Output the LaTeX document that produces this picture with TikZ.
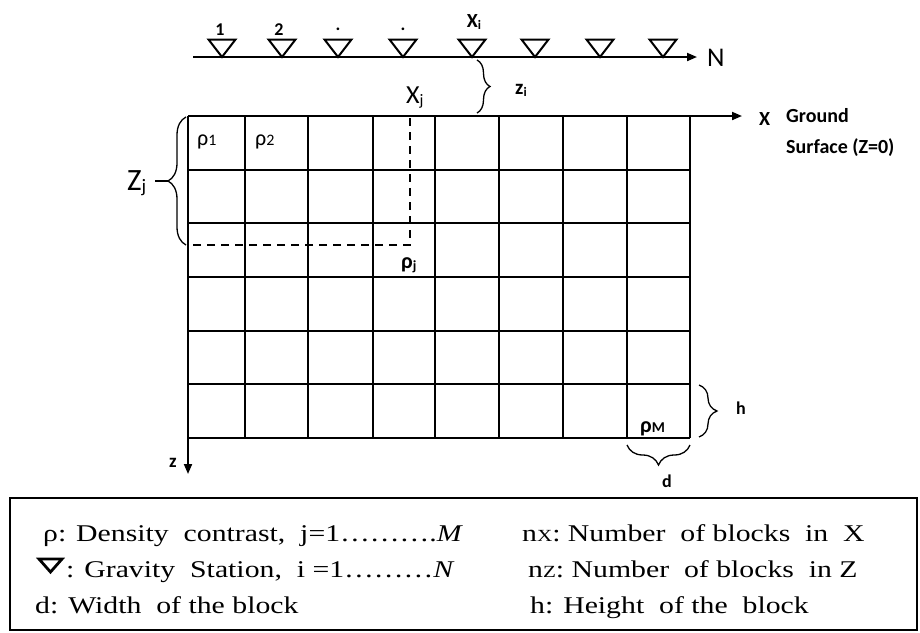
\documentclass[tikz,border=0pt]{standalone}
\usepackage{fontspec}
\setmainfont{Liberation Serif}
\newfontfamily\calfont{Carlito}
\newfontfamily\legfont[FakeStretch=1.24]{Liberation Serif}
\usetikzlibrary{decorations.pathreplacing,arrows.meta}
\newcommand\fs[1]{\fontsize{#1}{#1}\selectfont}
\newcommand\sbs[3]{#1{\fs{#3}\raisebox{-2.5pt}{#2}}}
\tikzset{
  gridline/.style={line width=1.9pt},
  axisarrow/.style={line width=1.9pt,-{Triangle[length=10pt,width=8pt]}},
  station/.style={line width=2pt, line join=miter},
  lab/.style={inner sep=0pt, anchor=base, font=\calfont\bfseries\fs{18}},
  labreg/.style={inner sep=0pt, anchor=base, font=\calfont\fs{18}},
  bracestyle/.style={decorate, decoration={brace,amplitude=#1}, line width=1.3pt},
  dashline/.style={line width=1.8pt, dash pattern=on 8pt off 6pt},
  legend/.style={inner sep=0pt, anchor=base west, font=\legfont\fs{24}},
}
\begin{document}
\begin{tikzpicture}[x=1pt,y=-1pt]
\useasboundingbox (0,0) rectangle (920,632);

% ---- station line
\coordinate (n0) at (193,57);
\coordinate (n1) at (697,57);
\draw[axisarrow] (n0) -- (n1);
\node[labreg, font=\calfont\fs{27}, anchor=base west] (N) at (707,66) {N};
\foreach \x in {222,282,338,403,472,535,600,663}{
  \draw[station] (\x-13.5,39.5) -- (\x+13.5,39.5) -- (\x,57) -- cycle;
}
\node[lab] (l1) at (220,35) {1};
\node[lab] (l2) at (279,35) {2};
\node[lab] (l3) at (338,30) {.};
\node[lab] (l4) at (403,30) {.};
\node[lab, font=\calfont\bfseries\fs{20}] (xi) at (474,27) {\sbs{X}{i}{13}};

% ---- grid
\foreach \x in {188,245,308,373,435,499,563,627,690}
  \draw[gridline] (\x,116) -- (\x,438);
\foreach \y in {169.7,223.3,277,330.7,384.3,438}
  \draw[gridline] (188,\y) -- (690,\y);
\coordinate (g0) at (188,116);
\coordinate (g1) at (742,116);
\draw[axisarrow] (g0) -- (g1);
\coordinate (z0) at (188,436);
\coordinate (z1) at (188,474);
\draw[axisarrow] (z0) -- (z1);

% ---- axis labels
\node[lab, font=\calfont\bfseries\fs{20}, anchor=base west] (X) at (759,125) {X};
\node[lab, font=\calfont\bfseries\fs{20}, anchor=base west] (gr) at (786,122) {Ground};
\node[lab, font=\calfont\bfseries\fs{20}, anchor=base west] (sf) at (786,153) {Surface (Z=0)};
\node[lab, font=\calfont\bfseries\fs{19}] (zl) at (173,467) {z};

% ---- zi brace
\draw[bracestyle=13pt] (477,60) -- (477,113);
\node[lab, font=\calfont\bfseries\fs{21}, anchor=base west] (zi) at (515,94) {\sbs{z}{i}{13}};

% ---- Xj and dashed lines
\node[labreg, font=\calfont\fs{26}, anchor=base west] (xj) at (406,103) {\sbs{X}{j}{16}};
\coordinate (pj) at (410,245);
\draw[dashline] (410,118) -- (pj) -- (190,245);

% ---- Zj brace
\draw[bracestyle=18pt] (186,245) -- (186,117);
\node[labreg, font=\calfont\fs{31}, anchor=base west] (Zj) at (127,190) {\sbs{Z}{j}{19}};
\draw[line width=1.3pt] (155,181) -- (168,181);

% ---- densities
\node[labreg, font=\calfont\fs{22}, anchor=base west] (r1) at (197,145) {ρ{\fs{16}1}};
\node[labreg, font=\calfont\fs{22}, anchor=base west] (r2) at (255,145) {ρ{\fs{16}2}};
\node[lab, font=\calfont\bfseries\fs{22}, anchor=base west] (rj) at (401,268) {\sbs{ρ}{j}{14}};
\node[lab, font=\calfont\bfseries\fs{22}, anchor=base west] (rM) at (640,432) {ρ{\fs{15}M}};

% ---- h and d braces
\draw[bracestyle=18pt] (699,385) -- (699,437);
\node[lab] (hl) at (741,414) {h};
\draw[bracestyle=20pt] (690,445) -- (627,445);
\node[lab] (dl) at (667,487) {d};

% ---- legend
\draw[line width=2pt] (10,498) rectangle (917,630);
\node[legend] (t1) at (43,541) {ρ: Density\ \ contrast,\ \ j=1……….\textit{M}};
\draw[line width=2.8pt, line join=miter] (39,559) -- (62,559) -- (50.5,572) -- cycle;
\node[legend] (t2) at (66,577) {: Gravity\ \ Station,\ \ i =1………\textit{N}};
\node[legend] (t3) at (35,613) {d: Width\ \ of the block};
\node[legend] (t4) at (522,541) {n{\fs{17}X}: Number\ \ of blocks\ \ in\ \ X};
\node[legend] (t5) at (528,577) {n{\fs{17}Z}: Number\ \ of blocks\ \ in Z};
\node[legend] (t6) at (530,613) {h: Height\ \ of the\ \ block};
\end{tikzpicture}
\end{document}
